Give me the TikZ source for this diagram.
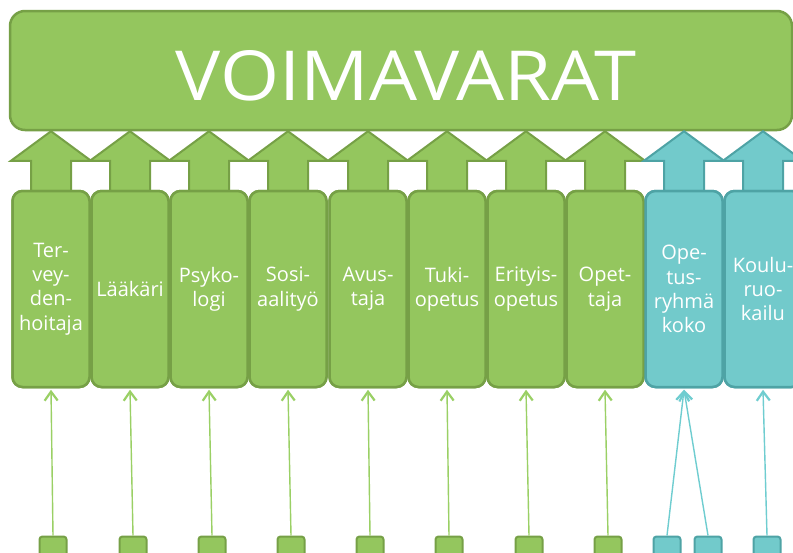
\documentclass[tikz,border=0pt]{standalone}
\usepackage{fontspec}
\setmainfont{Open Sans}
\newfontfamily\titlefont[FakeStretch=1.1]{Open Sans}
\usetikzlibrary{arrows.meta,calc}
\definecolor{gfill}{HTML}{94C65E}
\definecolor{gline}{HTML}{76A046}
\definecolor{tfill}{HTML}{72CACB}
\definecolor{tline}{HTML}{4EA3A5}
\definecolor{gthin}{HTML}{9AD065}
\definecolor{tthin}{HTML}{6FCDD0}
\begin{document}
\begin{tikzpicture}[x=1pt,y=-1pt,
  mainbox/.style={draw=gline,fill=gfill,line width=2.5pt,rounded corners=15pt,
    minimum width=782pt,minimum height=119pt,inner sep=0pt},
  titletext/.style={text=white,inner sep=0pt,font=\titlefont\fontsize{69}{80}\selectfont},
  itembox/.style={line width=2.5pt,rounded corners=10pt,minimum width=77pt,
    minimum height=196pt,inner sep=0pt,text=white,align=center,
    font=\fontsize{20}{24.3}\selectfont},
  gbox/.style={itembox,draw=gline,fill=gfill},
  tbox/.style={itembox,draw=tline,fill=tfill},
  gblock/.style={draw=gline,fill=gfill,line width=2pt,line join=miter},
  tblock/.style={draw=tline,fill=tfill,line width=2pt,line join=miter},
  sq/.style={line width=2pt,rounded corners=3pt,minimum width=27pt,minimum height=27pt,inner sep=0pt},
  gsq/.style={sq,draw=gline,fill=gfill},
  tsq/.style={sq,draw=tline,fill=tfill},
  gconn/.style={draw=gthin,line width=1.4pt,-{Straight Barb[length=9pt,width=13pt,line width=2.2pt]}},
  tconn/.style={draw=tthin,line width=1.4pt,-{Straight Barb[length=9pt,width=13pt,line width=2.2pt]}}
]
\useasboundingbox (0,0) rectangle (793,552);
\clip (0,0) rectangle (793,552);
\fill[white] (0,0) rectangle (793,552);

% main box
\node[mainbox] (main) at (401,70.5) {};
\node[titletext,anchor=base] (title) at (406,100) {VOIMAVARAT};

% item boxes
\path
  (51,289)  node[gbox] (b1) {Ter-\\vey-\\den-\\hoitaja}
  (130,289) node[gbox] (b2) {Lääkäri}
  (209,289) node[gbox] (b3) {Psyko-\\logi}
  (288,289) node[gbox] (b4) {Sosi-\\aalityö}
  (368,289) node[gbox] (b5) {Avus-\\taja}
  (447,289) node[gbox] (b6) {Tuki-\\opetus}
  (526,289) node[gbox] (b7) {Erityis-\\opetus}
  (605,289) node[gbox] (b8) {Opet-\\taja}
  (684,289) node[tbox] (b9) {Ope-\\tus-\\ryhmä\\koko}
  (763,289) node[tbox] (b10) {Koulu-\\ruo-\\kailu};

% block arrows
\foreach \i/\st in {1/gblock,2/gblock,3/gblock,4/gblock,5/gblock,6/gblock,7/gblock,8/gblock,9/tblock,10/tblock}{
  \draw[\st] ($(b\i.north)+(-20,1)$) -- ($(b\i.north)+(-20,-29)$) -- ($(b\i.north)+(-40,-29)$)
    -- (b\i.north |- main.south) -- ($(b\i.north)+(40,-29)$) -- ($(b\i.north)+(20,-29)$)
    -- ($(b\i.north)+(20,1)$) -- cycle;
}

% item boxes again, on top of the arrow shafts
\path
  (51,289)  node[gbox] {Ter-\\vey-\\den-\\hoitaja}
  (130,289) node[gbox] {Lääkäri}
  (209,289) node[gbox] {Psyko-\\logi}
  (288,289) node[gbox] {Sosi-\\aalityö}
  (368,289) node[gbox] {Avus-\\taja}
  (447,289) node[gbox] {Tuki-\\opetus}
  (526,289) node[gbox] {Erityis-\\opetus}
  (605,289) node[gbox] {Opet-\\taja}
  (684,289) node[tbox] {Ope-\\tus-\\ryhmä\\koko}
  (763,289) node[tbox] {Koulu-\\ruo-\\kailu};

% squares
\path
  (53,550)  node[gsq] (s1) {}
  (133,550) node[gsq] (s2) {}
  (212,550) node[gsq] (s3) {}
  (291,550) node[gsq] (s4) {}
  (370,550) node[gsq] (s5) {}
  (449,550) node[gsq] (s6) {}
  (529,550) node[gsq] (s7) {}
  (608,550) node[gsq] (s8) {}
  (667,550) node[tsq] (s9) {}
  (708,550) node[tsq] (s10) {}
  (767,550) node[tsq] (s11) {};

% thin connectors
\draw[gconn] (s1.north) -- ($(b1.south)+(0,1.5)$);
\draw[gconn] (s2.north) -- ($(b2.south)+(0,1.5)$);
\draw[gconn] (s3.north) -- ($(b3.south)+(0,1.5)$);
\draw[gconn] (s4.north) -- ($(b4.south)+(0,1.5)$);
\draw[gconn] (s5.north) -- ($(b5.south)+(0,1.5)$);
\draw[gconn] (s6.north) -- ($(b6.south)+(0,1.5)$);
\draw[gconn] (s7.north) -- ($(b7.south)+(0,1.5)$);
\draw[gconn] (s8.north) -- ($(b8.south)+(0,1.5)$);
\draw[tconn] (s9.north) -- ($(b9.south)+(0,1.5)$);
\draw[tconn] (s10.north) -- ($(b9.south)+(0,1.5)$);
\draw[tconn] (s11.north) -- ($(b10.south)+(0,1.5)$);
\end{tikzpicture}
\end{document}
